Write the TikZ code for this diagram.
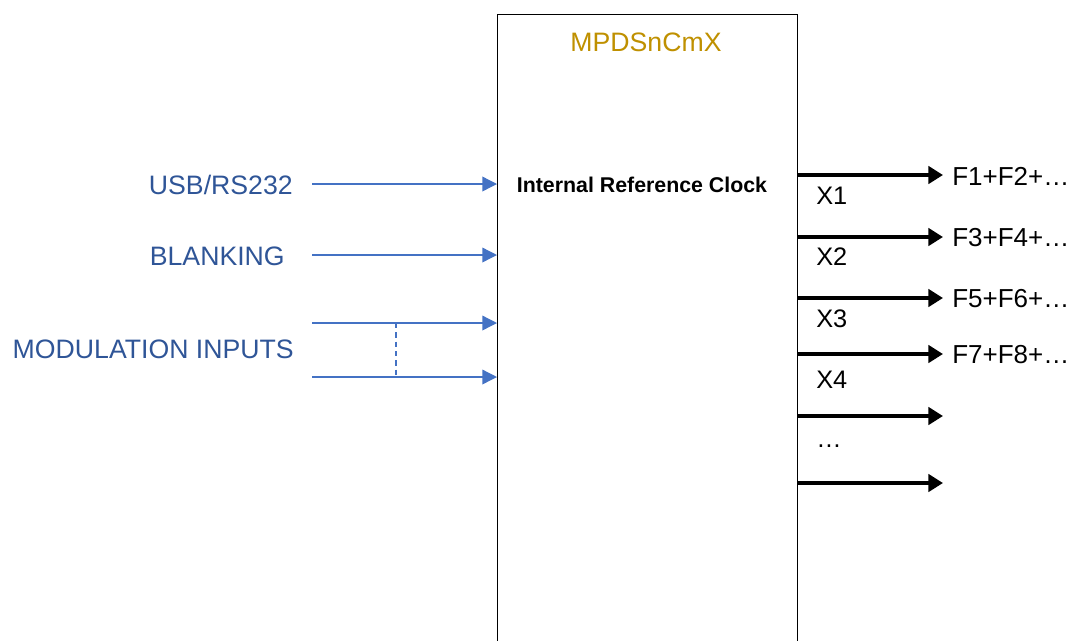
\documentclass[tikz,border=0pt]{standalone}
\usepackage{fontspec}
\setmainfont{Liberation Sans}
\usetikzlibrary{arrows.meta}
\definecolor{inblue}{HTML}{4472C4}
\definecolor{txtblue}{HTML}{2F5597}
\definecolor{gold}{HTML}{BF9000}
\tikzset{
  inarrow/.style={draw=inblue,line width=1pt,-{Triangle[length=11pt,width=11pt]}},
  outarrow/.style={draw=black,line width=3.4pt,-{Triangle[length=11pt,width=13pt]}},
  inlabel/.style={text=txtblue,font=\fontsize{20}{24}\selectfont,anchor=east,inner sep=0pt},
  outlabel/.style={font=\fontsize{19.5}{23}\selectfont,anchor=west,inner sep=0pt},
  xlabel/.style={font=\fontsize{19}{23}\selectfont,anchor=west,inner sep=0pt}
}
\begin{document}
\begin{tikzpicture}[x=0.75pt,y=-0.75pt]
    \useasboundingbox (0,0) rectangle (1071,640);
    \node[draw,line width=0.8pt,anchor=north west,minimum width=225pt,minimum height=500pt,inner sep=0pt] (dev) at (497,14) {};
    \node[text=gold,font=\fontsize{20}{24}\selectfont] (title) at (646,42) {MPDSnCmX};
    \node[font=\bfseries\fontsize{16}{19}\selectfont] (clk) at (642,185) {Internal Reference Clock};
    % inputs
    \node[inlabel] (usb)   at (293,185) {USB/RS232};
    \node[inlabel] (blank) at (285,256) {BLANKING};
    \node[inlabel] (mod)   at (294,349) {MODULATION INPUTS};
    \coordinate (usbS) at (312,184);
    \coordinate (blankS) at (312,255);
    \coordinate (modA) at (312,323);
    \coordinate (modB) at (312,377);
    \coordinate (tap) at (396,323);
    \foreach \s in {usbS,blankS,modA,modB}
      \draw[inarrow] (\s) -- (\s -| dev.west);
    \draw[inblue,line width=1pt,dash pattern=on 4pt off 3pt] (tap) -- (tap |- modB);
    % outputs
    \foreach \y/\n in {175/1,237/2,298/3,354/4,416/5,483/6}
      \coordinate (o\n) at (943,\y);
    \foreach \n in {1,...,6}
      \draw[outarrow] (o\n -| dev.east) -- (o\n);
    \node[outlabel] (f1) at (952,176) {F1+F2+\dots};
    \node[outlabel] (f2) at (952,238) {F3+F4+\dots};
    \node[outlabel] (f3) at (952,299) {F5+F6+\dots};
    \node[outlabel] (f4) at (952,355) {F7+F8+\dots};
    \node[xlabel] (x1) at (816,196) {X1};
    \node[xlabel] (x2) at (816,257) {X2};
    \node[xlabel] (x3) at (816,319) {X3};
    \node[xlabel] (x4) at (816,380) {X4};
    \node[xlabel] (xd) at (816,446) {\dots};
\end{tikzpicture}
\end{document}
